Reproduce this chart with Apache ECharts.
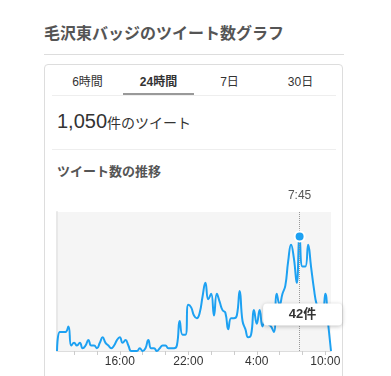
<!DOCTYPE html>
<html>
<head>
<meta charset="utf-8">
<script src="https://cdn.jsdelivr.net/npm/echarts@6/dist/echarts.min.js"></script>
<style>
	body {
		margin: 0;
		width: 391px;
		height: 376px;
		overflow: hidden;
		background: #fff;
		font-family: "Liberation Sans", Arial, "Noto Sans CJK JP", sans-serif;
		position: relative;
	}
	.abs { position: absolute; }
	#title { left: 44px; top: 24px; font-size: 16px; line-height: 20px; font-weight: bold; color: #555; }
	#titleRule { left: 44px; top: 54px; width: 300px; height: 1px; background: #ddd; }
	#card { left: 44px; top: 64px; width: 299px; height: 360px; border: 1px solid #ddd; border-radius: 4px; box-sizing: border-box; }
	.tab { top: 74px; width: 71px; height: 16px; line-height: 16px; font-size: 12px; color: #333; text-align: center; }
	.tab.active { font-weight: bold; }
	#tabBar { left: 123px; top: 93px; width: 71px; height: 2px; background: #999; }
	#tabRule { left: 52px; top: 95px; width: 284px; height: 1px; background: #eee; }
	#total { left: 57px; top: 108px; font-size: 20px; line-height: 26px; color: #333; white-space: nowrap; }
	#total span { font-size: 14px; }
	#totalRule { left: 52px; top: 149px; width: 284px; height: 1px; background: #eee; }
	#subTitle { left: 57px; top: 164px; font-size: 13px; line-height: 16px; font-weight: bold; color: #555; }
	#main { left: 0; top: 180px; width: 391px; height: 196px; }
</style>
</head>
<body>
<div id="title" class="abs">毛沢東バッジのツイート数グラフ</div>
<div id="titleRule" class="abs"></div>
<div id="card" class="abs"></div>
<div class="abs tab" style="left:52px">6時間</div>
<div class="abs tab active" style="left:123px">24時間</div>
<div class="abs tab" style="left:194px">7日</div>
<div class="abs tab" style="left:265px">30日</div>
<div id="tabBar" class="abs"></div>
<div id="tabRule" class="abs"></div>
<div id="total" class="abs">1,050<span>件のツイート</span></div>
<div id="totalRule" class="abs"></div>
<div id="subTitle" class="abs">ツイート数の推移</div>
<div id="main" class="abs"></div>
<script>
	var FONT = '"Liberation Sans", Arial, "Noto Sans CJK JP", sans-serif';
	var lineColor = '#1da1f2';

	// tweets per 15 minutes, 10:30 -> 10:30 next day (97 points)
	var counts = [
		0, 7, 7, 7, 9, 2, 3, 2, 3, 1, 2, 4, 2,
		2, 1, 3, 5, 3, 2, 1, 2, 4, 5, 3, 4, 2,
		0, 0, 0, 1, 0, 1, 4, 1, 1, 0, 1, 2, 2, 1, 1, 1, 2,
		11, 6, 6, 17, 16, 13, 12,
		14, 20, 25, 19, 21, 13, 21, 18, 15, 14,
		8, 12, 12, 13, 22, 11, 8, 5, 6, 15,
		10, 15, 9, 12, 10, 9, 7, 21, 17, 21,
		24, 33, 39, 34, 25, 42, 31, 31, 39, 31,
		23, 17, 15, 13, 21, 10, 0
	];
	var tickLabels = ['16:00', '22:00', '4:00', '10:00'];
	var hoverTime = '7:45';
	var hoverValue = 42;
	var yMax = 51;

	// category names, one every 15 minutes starting at 10:30
	var times = [];
	for (var i = 0; i < counts.length; i++) {
		var m = 10 * 60 + 30 + i * 15;
		var h = Math.floor(m / 60) % 24;
		var mm = m % 60;
		times.push(h + ':' + (mm < 10 ? '0' + mm : mm));
	}

	var chart = echarts.init(document.getElementById('main'));
	var option = {
		animation: false,
		textStyle: { fontFamily: FONT },
		grid: {
			left: 57,
			right: 60,
			top: 32,
			bottom: 25,
			show: true,
			backgroundColor: '#f5f5f5',
			borderWidth: 0
		},
		xAxis: {
			type: 'category',
			boundaryGap: false,
			data: times,
			axisLine: { lineStyle: { color: '#ddd', width: 1 } },
			axisTick: {
				length: 4,
				lineStyle: { color: '#ccc' },
				interval: function (idx, val) {
					var p = val.split(':');
					return p[1] === '00' && (+p[0]) % 2 === 0;
				}
			},
			axisLabel: {
				color: '#333',
				fontSize: 12,
				margin: 5,
				fontFamily: FONT,
				interval: function (idx, val) {
					return tickLabels.indexOf(val) >= 0;
				}
			},
			splitLine: { show: false }
		},
		yAxis: {
			type: 'value',
			min: 0,
			max: yMax,
			axisLine: { show: true, lineStyle: { color: '#e8e8e8', width: 2 } },
			axisTick: { show: false },
			axisLabel: { show: false },
			splitLine: { show: false }
		},
		series: [{
			type: 'line',
			data: counts,
			smooth: true,
			showSymbol: false,
			lineStyle: { color: lineColor, width: 2 },
			itemStyle: { color: lineColor },
			markLine: {
				silent: true,
				symbol: ['none', 'none'],
				lineStyle: { color: '#999', type: 'dotted', width: 1 },
				label: {
					show: true,
					position: 'end',
					distance: 10,
					formatter: hoverTime,
					color: '#555',
					fontSize: 12,
					fontFamily: FONT
				},
				emphasis: { disabled: true },
				data: [{ xAxis: hoverTime }]
			},
			markPoint: {
				silent: true,
				z: 6,
				data: [
					{
						coord: [hoverTime, hoverValue],
						symbol: 'circle',
						symbolSize: 10,
						itemStyle: { color: lineColor, borderColor: '#fff', borderWidth: 2 },
						label: { show: false }
					},
					{
						coord: [hoverTime, hoverValue],
						symbol: 'rect',
						symbolSize: 1,
						itemStyle: { color: 'transparent', borderWidth: 0 },
						label: {
							show: true,
							position: 'inside',
							offset: [3, 78],
							formatter: hoverValue + '件',
							width: 79,
							height: 22,
							lineHeight: 22,
							align: 'center',
							verticalAlign: 'middle',
							backgroundColor: '#fff',
							borderRadius: 4,
							shadowBlur: 4,
							shadowColor: 'rgba(0,0,0,0.25)',
							shadowOffsetY: 1,
							color: '#333',
							fontSize: 13,
							fontWeight: 'bold',
							fontFamily: FONT
						}
					}
				]
			}
		}]
	};
	chart.setOption(option);
</script>
</body>
</html>
